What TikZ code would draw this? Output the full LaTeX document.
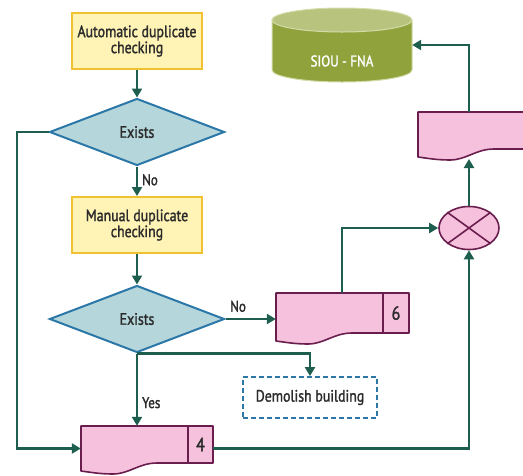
\documentclass[tikz,border=0pt]{standalone}
\usepackage{fontspec}
\setmainfont{PT Sans}[FakeStretch=0.84,FakeBold=1.6]
\usetikzlibrary{shapes.geometric,arrows.meta}

\definecolor{flow}{HTML}{1E5E4E}
\definecolor{boxfill}{HTML}{FFF4B6}
\definecolor{boxline}{HTML}{F0C232}
\definecolor{decfill}{HTML}{B5D6DA}
\definecolor{decline}{HTML}{2A77A8}
\definecolor{docfill}{HTML}{F6C1DD}
\definecolor{docline}{HTML}{6A1E4E}
\definecolor{dbbody}{HTML}{8FA23C}
\definecolor{dbtop}{HTML}{B8C47D}
\definecolor{dbline}{HTML}{D3DBA8}
\definecolor{txt}{HTML}{2B2B2B}

\tikzset{
  every node/.style={text=txt, font=\fontsize{16.5}{17}\selectfont},
  procbox/.style={draw=boxline, fill=boxfill, line width=2pt, minimum width=130pt,
    minimum height=56pt, align=center, inner sep=0pt},
  decision/.style={diamond, draw=decline, fill=decfill, line width=2pt,
    minimum width=175pt, minimum height=67pt, inner sep=0pt},
  outline/.style={draw=decline, dashed, dash pattern=on 5pt off 3pt, line width=1.8pt,
    minimum width=134pt, minimum height=41pt, inner sep=0pt},
  docshape/.style={draw=docline, fill=docfill, line width=1.6pt, line join=round},
  slot/.style={inner sep=0pt, minimum width=0pt},
  link/.style={draw=flow, line width=2.2pt, -{Triangle[length=9pt,width=10pt]}},
  tag/.style={inner sep=0pt, font=\fontsize{15.5}{16}\selectfont},
  digit/.style={font=\fontsize{19}{20}\selectfont},
}

% document symbol: top edge, straight right side and a wavy bottom
% #1 name, #2 left, #3 top, #4 right, #5 bottom of the right side
\newcommand\docsymbol[5]{%
  \path[docshape] (#2,#3) -- (#4,#3) -- (#4,#5) -- (#2+76,#5)
    .. controls (#2+58,#5) and (#2+48,#5+11) .. (#2+32,#5+11)
    .. controls (#2+18,#5+11) and (#2+8,#5+9) .. (#2,#5+8) -- cycle;
  \node[slot, minimum width=#4pt-#2pt, minimum height=#5pt-#3pt]
    (#1) at ({(#2+#4)/2},{(#3+#5)/2}) {};
}

\begin{document}
\begin{tikzpicture}[x=1pt,y=-1pt]
\useasboundingbox (0,0) rectangle (523,475);
\clip (0,0) rectangle (523,475);

% process boxes and decisions
\node[procbox] (auto) at (137,41) {Automatic duplicate\\[-1pt]checking};
\node[decision] (ex1) at (137,132) {Exists};
\node[procbox] (man) at (137,225) {Manual duplicate\\[-1pt]checking};
\node[decision] (ex2) at (137,319) {Exists};
\node[outline] (demo) at (310,397.5) {Demolish building};

% documents
\docsymbol{d6}{276}{293}{409}{333}
\draw[docline, line width=1.6pt] (383,293) -- (383,333);
\node[digit] at (396,313) {6};

\docsymbol{d4}{81}{426}{213}{463}
\draw[docline, line width=1.6pt] (188,426) -- (188,463);
\node[digit] at (200.5,444.5) {4};

\docsymbol{dtop}{418}{112}{552}{149}

% merge symbol
\node[ellipse, draw=docline, fill=docfill, line width=1.6pt, minimum width=60pt,
  minimum height=43pt, inner sep=0pt] (mrg) at (469,228) {};
\draw[docline, line width=1.6pt] (mrg.north west) -- (mrg.south east)
  (mrg.north east) -- (mrg.south west);

% database
\fill[dbbody, draw=dbline, line width=1pt] (272,20) -- (272,70) arc[start angle=180, end angle=0,
  x radius=70, y radius=12] -- (412,20) -- cycle;
\fill[dbtop, draw=dbline, line width=1pt] (342,20) ellipse[x radius=70, y radius=12];
\node[slot, minimum width=140pt, minimum height=74pt] (db) at (342,45) {};
\node[text=white, font=\fontsize{15.5}{16}\selectfont] at (342,61) {SIOU - FNA};

% connectors
\draw[link] (auto.south) -- (ex1.north);
\draw[link] (ex1.south) -- node[tag, right=4pt, pos=0.45] {No} (man.north);
\draw[link] (man.south) -- (ex2.north);
\draw[link] (ex2.east) -- node[tag, above=6pt, pos=0.25] {No} (ex2.east -| d6.west);
\draw[link] (ex2.south) -- node[tag, right=4pt, pos=0.68] {Yes} (ex2.south |- d4.north);
\draw[link] (ex2.south) -| (demo.north);
\coordinate (loop) at (17,132);
\draw[link] (ex1.west) -- (loop) |- ([yshift=-4pt]d4.west);
\draw[link] ([yshift=-4pt]d4.east) -| (mrg.south);
\coordinate (d6up) at (342,293);
\draw[link] (d6up) |- (mrg.west);
\coordinate (dbot) at (469,159);
\draw[link] (mrg.north) -- (dbot);
\coordinate (dtopin) at (469,112);
\draw[link] (dtopin) |- (db.east);
\end{tikzpicture}
\end{document}
